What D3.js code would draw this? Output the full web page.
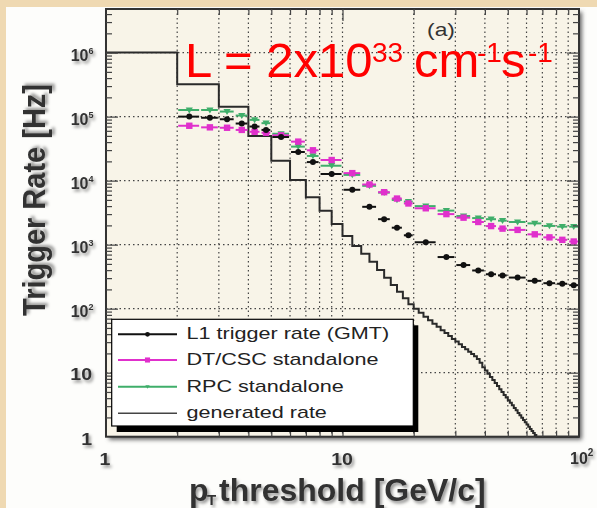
<!DOCTYPE html>
<html><head><meta charset="utf-8">
<script src="https://cdn.jsdelivr.net/npm/d3@7"></script>
<style>html,body{margin:0;padding:0;background:#efd9b2;overflow:hidden}svg{display:block}</style>
</head><body>
<svg id="c" width="597" height="508"></svg>
<script>
// ---------------- data ----------------
const binEdges = [2,2.5,3,3.5,4,4.5,5,6,7,8,10,12,14,16,18,20,25,30,35,40,45,50,60,70,80,90,100];
const l1Rate = [1.0e5,9.6e4,9.1e4,7.8e4,7.0e4,6.2e4,4.8e4,2.8e4,1.95e4,1.27e4,7.2e3,3.9e3,2.5e3,1.84e3,1.40e3,1.09e3,640,480,395,345,331,306,272,250,245,233];
const dtcscRate = [7.2e4,6.8e4,6.7e4,6.2e4,5.8e4,5.6e4,5.1e4,4.07e4,2.98e4,2.1e4,1.31e4,8.7e3,6.6e3,5.25e3,4.4e3,3.7e3,3.0e3,2.64e3,2.26e3,1.95e3,1.78e3,1.70e3,1.45e3,1.30e3,1.19e3,1.12e3];
const rpcRate = [1.27e5,1.27e5,1.2e5,1.04e5,8.9e4,7.9e4,5.4e4,3.4e4,2.43e4,1.71e4,1.23e4,8.3e3,6.5e3,5.0e3,4.7e3,4.0e3,3.4e3,2.8e3,2.6e3,2.5e3,2.37e3,2.26e3,2.15e3,1.96e3,1.91e3,1.91e3];
// generated rate, 1 GeV bins from 1 to 100
const genEdges = d3.range(1, 101);
const genRate = [1.0e6,3.2e5,1.43e5,5.0e4,2.05e4,1.02e4,5.5e3,3.4e3,2.1e3,1.36e3,
  950,720,541,402,304,234,183,146,117,100,
  86,75,66,58,52,46,41.5,37.3,33.7,30.6,
  27.8,25.3,23.2,21.2,19.5,18.0,16.3,14.3,12.2,10.8,
  9.6,8.6,7.7,6.9,6.2,5.5,5.0,4.5,4.1,3.7,
  3.4,3.1,2.8,2.6,2.35,2.16,1.98,1.82,1.68,1.55,
  1.43,1.32,1.23,1.14,1.06,0,0,0,0,0,
  0,0,0,0,0,0,0,0,0,0,
  0,0,0,0,0,0,0,0,0,0,
  0,0,0,0,0,0,0,0,0];
const xTickVals = [1,10,100];
const xTickBase = ["1","10","10"];
const xTickExp = ["","","2"];
const yTickVals = [1,10,1e2,1e3,1e4,1e5,1e6];
const yTickBase = ["1","10","10","10","10","10","10"];
const yTickExp = ["","","2","3","4","5","6"];
const legendLabels = ["L1 trigger rate (GMT)","DT/CSC standalone","RPC standalone","generated rate"];

// ---------------- layout ----------------
const FONT = "'Liberation Sans', Arial, Helvetica, sans-serif";
const L = 106, R = 579, T = 9, B = 436.7;
const x = d3.scaleLog().domain([1,100]).range([L,R]);
const y = d3.scaleLog().domain([1,4.8e6]).range([B,T]).clamp(true);
const yv = v => y(Math.max(v,1));
const svg = d3.select("#c");
const defs = svg.append("defs");
const f = defs.append("filter").attr("id","sh").attr("x","-20%").attr("y","-20%").attr("width","140%").attr("height","140%");
f.append("feDropShadow").attr("dx",2).attr("dy",2.5).attr("stdDeviation",1.5).attr("flood-color","#000").attr("flood-opacity",0.4);
const fb = defs.append("filter").attr("id","bl");
fb.append("feGaussianBlur").attr("stdDeviation",2);

// background
svg.append("rect").attr("width",597).attr("height",508).attr("fill","#efd9b2");
svg.append("rect").attr("x",6).attr("y",7).attr("width",591).attr("height",501).attr("fill","#fdfdfb");

// frame shadow + plot area
svg.append("rect").attr("x",L+3).attr("y",T+3).attr("width",R-L).attr("height",B-T).attr("fill","#666").attr("filter","url(#bl)");
svg.append("rect").attr("x",L).attr("y",T).attr("width",R-L).attr("height",B-T).attr("fill","#f8f4e8");

// grid
const gridX = [2,3,4,5,6,7,8,9,10,20,30,40,50,60,70,80,90];
const gridY = [10,1e2,1e3,1e4,1e5,1e6];
const grid = svg.append("g").attr("stroke","#444").attr("stroke-width",1.2).attr("stroke-dasharray","1.5,3");
grid.selectAll(".gx").data(gridX).join("line").attr("x1",d=>x(d)).attr("x2",d=>x(d)).attr("y1",T).attr("y2",B);
grid.selectAll(".gy").data(gridY).join("line").attr("y1",d=>y(d)).attr("y2",d=>y(d)).attr("x1",L).attr("x2",R);

// generated histogram
const genPts = genRate.map((v,i)=>[genEdges[i], v]);
genPts.push([genEdges[genEdges.length-1], genRate[genRate.length-1]]);
svg.append("path").datum(genPts)
  .attr("d", d3.line().x(d=>x(d[0])).y(d=>yv(d[1])).curve(d3.curveStepAfter))
  .attr("fill","none").attr("stroke","#2a2a2a").attr("stroke-width",2);

// series
const series = [
  {vals: rpcRate, color:"#3fae6a", marker:"tri"},
  {vals: dtcscRate, color:"#e030cc", marker:"sq"},
  {vals: l1Rate, color:"#111", marker:"dot"}
];
function marker(g, type, cx, cy, color, s) {
  if (type==="dot") g.append("circle").attr("cx",cx).attr("cy",cy).attr("r",3*s).attr("fill",color);
  else if (type==="sq") g.append("rect").attr("x",cx-3.2*s).attr("y",cy-3.2*s).attr("width",6.4*s).attr("height",6.4*s).attr("fill",color);
  else g.append("path").attr("d",`M${cx-3.6*s},${cy-2.6*s}L${cx+3.6*s},${cy-2.6*s}L${cx},${cy+3.4*s}Z`).attr("fill",color);
}
series.forEach(sr=>{
  const g = svg.append("g");
  sr.vals.forEach((v,i)=>{
    const lo = binEdges[i], hi = binEdges[i+1], c = (lo+hi)/2;
    g.append("line").attr("x1",x(lo)+1).attr("x2",x(hi)-1).attr("y1",y(v)).attr("y2",y(v))
      .attr("stroke",sr.color).attr("stroke-width",2);
    marker(g, sr.marker, x(c), y(v), sr.color, 1);
  });
});

// frame
svg.append("rect").attr("x",L).attr("y",T).attr("width",R-L).attr("height",B-T)
  .attr("fill","none").attr("stroke","#333").attr("stroke-width",2);

// ticks
const xMinor = [2,3,4,5,6,7,8,9,20,30,40,50,60,70,80,90];
const xMajor = [10];
const yMinor = [];
[1,10,1e2,1e3,1e4,1e5,1e6].forEach(p=>[2,3,4,5,6,7,8,9].forEach(m=>{ if (p*m<4.8e6) yMinor.push(p*m); }));
const yMajor = [10,1e2,1e3,1e4,1e5,1e6];
function ticks(axisFn, vals, len, tr) {
  const g = svg.append("g").attr("transform",tr)
    .call(axisFn.tickValues(vals).tickSize(-len).tickFormat(""));
  g.select(".domain").remove();
  g.selectAll("line").attr("stroke","#444").attr("stroke-width",1.2);
}
ticks(d3.axisBottom(x), xMinor, 6, `translate(0,${B})`);
ticks(d3.axisBottom(x), xMajor, 12, `translate(0,${B})`);
ticks(d3.axisTop(x), xMinor, 6, `translate(0,${T})`);
ticks(d3.axisTop(x), xMajor, 12, `translate(0,${T})`);
ticks(d3.axisLeft(y), yMinor, 6, `translate(${L},0)`);
ticks(d3.axisLeft(y), yMajor, 12, `translate(${L},0)`);
ticks(d3.axisRight(y), yMinor, 6, `translate(${R},0)`);
ticks(d3.axisRight(y), yMajor, 12, `translate(${R},0)`);

// legend
const lg = svg.append("g");
const lx = 111.7, ly = 319.3, lw = 301.6, lh = 106.7;
lg.append("rect").attr("x",lx+5).attr("y",ly+6).attr("width",lw).attr("height",lh).attr("fill","#000");
lg.append("rect").attr("x",lx).attr("y",ly).attr("width",lw).attr("height",lh).attr("fill","#fff").attr("stroke","#000").attr("stroke-width",1.2);
const legColors = ["#111","#e030cc","#3fae6a","#444"];
const legMarkers = ["dot","sq","tri",null];
const legY = [334.3,360,386.7,413.3];
legendLabels.forEach((t,i)=>{
  lg.append("line").attr("x1",118).attr("x2",177).attr("y1",legY[i]).attr("y2",legY[i])
    .attr("stroke",legColors[i]).attr("stroke-width",i===3?1.6:2);
  if (legMarkers[i]) marker(lg, legMarkers[i], 147.5, legY[i], legColors[i], i===2?0.6:0.8);
  lg.append("text").attr("transform",`translate(186.5,${legY[i]+5}) scale(1.27,1)`)
    .attr("font-family",FONT).attr("font-size",17).attr("fill","#222").text(t);
});

// tick labels
const tl = svg.append("g").attr("font-family",FONT).attr("font-weight","bold").attr("fill","#333").attr("filter","url(#sh)");
yTickVals.forEach((v,i)=>{
  if (yTickExp[i]) {
    const t = tl.append("text").attr("x",93.5).attr("y",y(v)+8).attr("text-anchor","end").attr("font-size",16);
    t.append("tspan").text(yTickBase[i]);
    t.append("tspan").attr("font-size",9).attr("dy",-7).text(yTickExp[i]);
  } else {
    tl.append("text").attr("transform",`translate(92,${y(v)+(v===1?8:7.5)}) scale(1.15,1)`)
      .attr("text-anchor","end").attr("font-size",17).text(yTickBase[i]);
  }
});
xTickVals.forEach((v,i)=>{
  if (xTickExp[i]) {
    const t = tl.append("text").attr("x",x(v)-9).attr("y",464).attr("font-size",16);
    t.append("tspan").text(xTickBase[i]);
    t.append("tspan").attr("font-size",10).attr("dy",-8).text(xTickExp[i]);
  } else {
    tl.append("text").attr("transform",`translate(${x(v)-(i===0?1:0.5)},465) scale(1.15,1)`)
      .attr("text-anchor","middle").attr("font-size",17).text(xTickBase[i]);
  }
});

// axis titles
const xt = svg.append("text").attr("font-family",FONT).attr("font-weight","bold").attr("fill","#333")
  .attr("filter","url(#sh)").attr("font-size",32).attr("y",501);
xt.append("tspan").attr("x",189).text("p");
xt.append("tspan").attr("x",207).attr("y",505).attr("font-size",15).text("T");
xt.append("tspan").attr("x",219).attr("y",501).text("threshold [GeV/c]");
svg.append("text").attr("transform","translate(45,200) rotate(-90) scale(1,1.1)")
  .attr("text-anchor","middle").attr("font-family",FONT).attr("font-weight","bold")
  .attr("font-size",29).attr("fill","#333").attr("filter","url(#sh)").text("Trigger Rate [Hz]");

// annotations
svg.append("text").attr("transform","translate(441,36) scale(1.27,1)").attr("text-anchor","middle")
  .attr("font-family",FONT).attr("font-size",18).attr("fill","#333").text("(a)");
const lum = svg.append("text").attr("font-family",FONT).attr("fill","#ff0000").attr("font-size",49);
lum.append("tspan").attr("x",185).attr("y",77).text("L = 2x10");
lum.append("tspan").attr("x",372).attr("y",62).attr("font-size",28).text("33");
lum.append("tspan").attr("x",414).attr("y",77).text("cm");
lum.append("tspan").attr("x",477).attr("y",62).attr("font-size",28).text("-1");
lum.append("tspan").attr("x",501).attr("y",77).text("s");
lum.append("tspan").attr("x",528).attr("y",62).attr("font-size",28).text("-1");
</script>
</body></html>
